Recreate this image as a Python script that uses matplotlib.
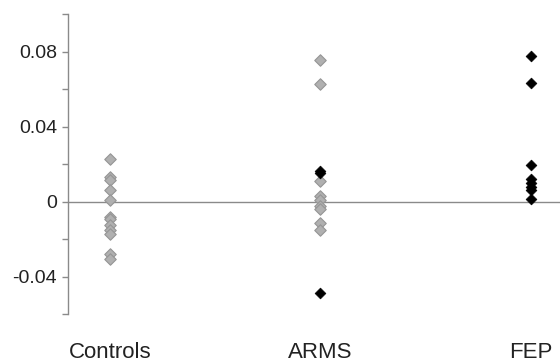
import numpy as np
import matplotlib
matplotlib.use("Agg")
import matplotlib.pyplot as plt

plt.rcParams['font.family'] = ['Liberation Sans', 'DejaVu Sans']

groups = ["Controls", "ARMS", "FEP"]

controls_gray = [0.0229, 0.0129, 0.0117, 0.0064, 0.0009, -0.0080, -0.0092,
                 -0.0124, -0.0153, -0.0172, -0.0282, -0.0305]
arms_gray = [0.0753, 0.0628, 0.0112, 0.0028, 0.0010, -0.0025, -0.0039,
             -0.0113, -0.0154]
arms_black = [0.0161, 0.0150, -0.0490]
fep_black = [0.0777, 0.0631, 0.0197, 0.0122, 0.0099, 0.0078, 0.0060, 0.0011]

yticks = [-0.06, -0.04, -0.02, 0, 0.02, 0.04, 0.06, 0.08, 0.10]
ytick_labels = ["", "-0.04", "", "0", "", "0.04", "", "0.08", ""]

fig = plt.figure(figsize=(5.6, 3.64), dpi=100)
ax = fig.add_axes([68 / 560, 1 - 314 / 364, 1 - 68 / 560, 300 / 364])

gray_kw = dict(marker="D", s=34, facecolor="#b0b0b0", edgecolor="#959595",
               linewidths=0.8, zorder=3)
black_kw = dict(marker="D", s=30, facecolor="black", edgecolor="black",
                linewidths=0.5, zorder=4)

ax.scatter([0] * len(controls_gray), controls_gray, **gray_kw)
ax.scatter([1] * len(arms_gray), arms_gray, **gray_kw)
ax.scatter([1] * len(arms_black), arms_black, **black_kw)
ax.scatter([2] * len(fep_black), fep_black, **black_kw)

ax.axhline(0, color="#8a8a8a", lw=1.0, zorder=2)

ax.set_xlim(-0.2, 2.14)
ax.set_ylim(-0.06, 0.10)

for side in ["top", "right", "bottom"]:
    ax.spines[side].set_visible(False)
ax.spines["left"].set_color("#8a8a8a")
ax.spines["left"].set_linewidth(1.0)

ax.set_yticks(yticks)
ax.set_yticklabels(ytick_labels, fontsize=14)
ax.tick_params(axis="y", direction="out", length=4, width=1, color="#8a8a8a",
               pad=4, labelcolor="#222222")

ax.set_xticks(range(len(groups)))
ax.set_xticklabels(groups, fontsize=16, color="#222222")
ax.tick_params(axis="x", length=0, pad=20)

fig.savefig("out.png", dpi=100, facecolor="white")
